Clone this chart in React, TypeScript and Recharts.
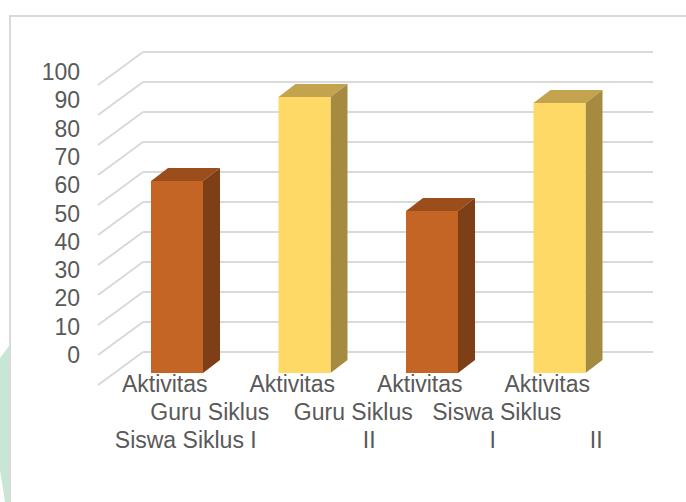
import { BarChart, Bar, XAxis, YAxis, CartesianGrid, Cell } from 'recharts';

const categories = [
  'Aktivitas Guru Siklus I',
  'Aktivitas Guru Siklus II',
  'Aktivitas Siswa Siklus I',
  'Aktivitas Siswa Siklus II',
];
const values = [64, 92, 54, 90];
const yTicks = [0, 10, 20, 30, 40, 50, 60, 70, 80, 90, 100];

// the category labels, as they are laid out line by line in the picture
const labelRow1 = ['Aktivitas', 'Aktivitas', 'Aktivitas', 'Aktivitas'];
const labelRow2 = ['Guru Siklus', 'Guru Siklus', 'Siswa Siklus', ''];
const labelRow3 = ['Siswa Siklus I', 'II', 'I', 'II'];

const data = categories.map((name, i) => ({ name, value: values[i] }));

const faces = [
  { front: '#C46526', side: '#7E3F17', top: '#9B4D1B' },
  { front: '#FFD966', side: '#A58B40', top: '#C3A34E' },
];

const DEPTH_X = 17;
const DEPTH_Y = 13;
const FONT = '"Liberation Sans", Arial, sans-serif';
const TEXT = '#595959';
const GRID = '#d9d9d9';

const Box = (props: any) => {
  const { x, y, width, height, index } = props;
  const c = faces[index % 2];
  const r = x + width;
  return (
    <g>
      <polygon
        points={`${x},${y} ${x + DEPTH_X},${y - DEPTH_Y} ${r + DEPTH_X},${y - DEPTH_Y} ${r},${y}`}
        fill={c.top}
      />
      <polygon
        points={`${r},${y} ${r + DEPTH_X},${y - DEPTH_Y} ${r + DEPTH_X},${y + height - DEPTH_Y} ${r},${y + height}`}
        fill={c.side}
      />
      <rect x={x} y={y} width={width} height={height} fill={c.front} />
    </g>
  );
};

// back wall line + diagonal towards the front
const GridLine = (p: any) => {
  const bx = p.x1 + 30;
  const by = p.y1 - 21;
  return (
    <g key={p.key}>
      <line x1={bx} y1={by} x2={p.x2 + 30} y2={by} stroke={GRID} strokeWidth={2} />
      <line x1={bx} y1={by} x2={p.x1 - 15} y2={p.y1 + 12} stroke={GRID} strokeWidth={2} />
    </g>
  );
};

const YTick = (props: any) => {
  const { x, y, payload } = props;
  const v = payload.value;
  return (
    <text
      x={x}
      y={y - 18 + 0.17 * v}
      textAnchor="end"
      dominantBaseline="central"
      fill={TEXT}
      fontSize={23}
      fontFamily={FONT}
    >
      {v}
    </text>
  );
};

const row2Shift = [33, 49, 65, 0];
const row3Shift = [9, 65, 61, 37];

const XTick = (props: any) => {
  const { x, y, index } = props;
  return (
    <g fill={TEXT} fontSize={23} fontFamily={FONT}>
      <text x={x - 12} y={y + 11} textAnchor="middle" dominantBaseline="central">
        {labelRow1[index]}
      </text>
      {labelRow2[index] && (
        <text x={x + row2Shift[index]} y={y + 39} textAnchor="middle" dominantBaseline="central">
          {labelRow2[index]}
        </text>
      )}
      <text x={x + row3Shift[index]} y={y + 67} textAnchor="middle" dominantBaseline="central">
        {labelRow3[index]}
      </text>
    </g>
  );
};

export default function App() {
  return (
    <div style={{ position: 'absolute', left: 0, top: 0, width: 686, height: 502, overflow: 'hidden', background: '#fff' }}>
      <div
        style={{
          position: 'absolute',
          left: 0,
          top: 0,
          width: 686,
          height: 502,
          background: '#c8e6d5',
          clipPath: 'polygon(0px 358px, 9px 346px, 9px 502px, 5px 502px, 0px 470px)',
        }}
      />
      <div
        style={{
          position: 'absolute',
          left: 9,
          top: 15,
          width: 700,
          height: 520,
          border: '2px solid #d9d9d9',
          background: '#fff',
        }}
      />
      <div style={{ position: 'absolute', left: 0, top: 0 }}>
        <BarChart width={686} height={502} data={data} margin={{ top: 73, right: 63, bottom: 0, left: 0 }}>
          <CartesianGrid vertical={false} horizontal={GridLine} />
          <XAxis
            dataKey="name"
            height={129}
            interval={0}
            axisLine={false}
            tickLine={false}
            tickSize={0}
            tickMargin={0}
            tick={<XTick />}
          />
          <YAxis
            width={113}
            domain={[0, 100]}
            ticks={yTicks}
            axisLine={false}
            tickLine={false}
            tickSize={0}
            tickMargin={33}
            tick={<YTick />}
          />
          <Bar dataKey="value" barSize={52} shape={<Box />} isAnimationActive={false}>
            {data.map((d, i) => (
              <Cell key={d.name} fill={faces[i % 2].front} />
            ))}
          </Bar>
        </BarChart>
      </div>
    </div>
  );
}
